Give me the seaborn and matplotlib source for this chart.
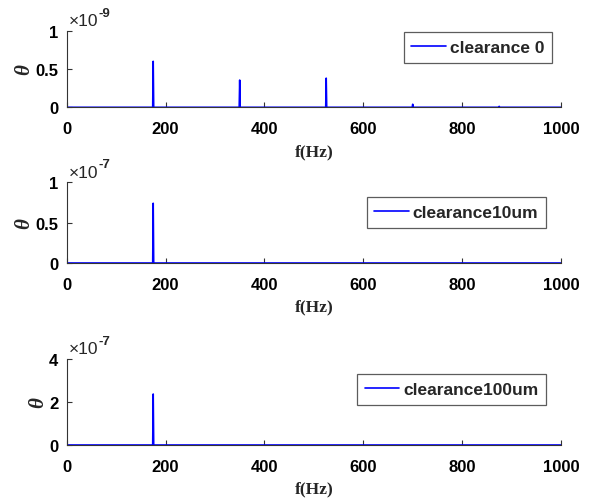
import numpy as np
import pandas as pd
import matplotlib
matplotlib.use("Agg")
import matplotlib.pyplot as plt
import seaborn as sns
from matplotlib.ticker import FixedLocator, FuncFormatter

# Spectral peaks of the angular response for three clearance cases
freq_max = 1000
freq_step = 1.0

peak_freqs_c0 = [175, 350, 525, 700, 875]
peak_amps_c0 = [0.60e-9, 0.355e-9, 0.38e-9, 0.04e-9, 0.012e-9]

peak_freqs_c10 = [175]
peak_amps_c10 = [0.74e-7]

peak_freqs_c100 = [175]
peak_amps_c100 = [2.37e-7]

series_labels = ["clearance 0", "clearance10um", "clearance100um"]
exponents = [-9, -7, -7]
ytick_values = [[0, 0.5, 1], [0, 0.5, 1], [0, 2, 4]]
xtick_values = [0, 200, 400, 600, 800, 1000]
x_label = "f(Hz)"
y_label = r"$\theta$"

sns.set_theme(style="ticks")
plt.rcParams["font.family"] = ["Liberation Sans", "DejaVu Sans"]
plt.rcParams["mathtext.fontset"] = "custom"
plt.rcParams["mathtext.rm"] = "Liberation Sans"
plt.rcParams["mathtext.bf"] = "Liberation Sans:bold"
plt.rcParams["mathtext.it"] = "Liberation Serif:italic:bold"


def spectrum(freqs, amps):
    f = np.arange(0, freq_max + freq_step, freq_step)
    a = np.zeros_like(f)
    for fk, ak in zip(freqs, amps):
        a[np.argmin(np.abs(f - fk))] = ak
    return pd.DataFrame({"f": f, "theta": a})


data = [
    spectrum(peak_freqs_c0, peak_amps_c0),
    spectrum(peak_freqs_c10, peak_amps_c10),
    spectrum(peak_freqs_c100, peak_amps_c100),
]

W, H = 592, 502
fig = plt.figure(figsize=(W / 100, H / 100), dpi=100)

# axes boxes in pixels: (left, top, right, bottom)
boxes = [(66.7, 31.7, 561, 108.3), (66.7, 183.3, 561, 264), (66.7, 360, 561, 446)]
legend_corners = [(552, 33), (546, 198), (546, 375)]

for df, label, exp, yt, box, lc in zip(data, series_labels, exponents,
                                         ytick_values, boxes, legend_corners):
    l, t, r, b = box
    ax = fig.add_axes([l / W, 1 - b / H, (r - l) / W, (b - t) / H])
    scale = 10.0 ** exp
    sns.lineplot(data=df, x="f", y="theta", ax=ax, color="#0000ff",
                 linewidth=1.2, label=label)
    ax.set_xlim(0, freq_max)
    ax.set_ylim(yt[0] * scale, yt[-1] * scale)
    ax.xaxis.set_major_locator(FixedLocator(xtick_values))
    ax.yaxis.set_major_locator(FixedLocator([v * scale for v in yt]))
    ax.yaxis.set_major_formatter(FuncFormatter(lambda v, p, s=scale: f"{v / s:g}"))
    ax.xaxis.set_major_formatter(FuncFormatter(lambda v, p: f"{v:g}"))
    for side in ("top", "right"):
        ax.spines[side].set_visible(False)
    for side in ("left", "bottom"):
        ax.spines[side].set_color("#333333")
        ax.spines[side].set_linewidth(0.8)
    ax.tick_params(direction="in", length=3.5, width=0.8, color="#333333",
                   labelsize=12, labelcolor="black")
    ax.tick_params(axis="x", pad=10)
    ax.tick_params(axis="y", pad=6)
    for lab in ax.get_xticklabels() + ax.get_yticklabels():
        lab.set_fontweight("bold")
    ax.set_xlabel(x_label, family="Liberation Serif", fontweight="bold",
                  fontsize=12.5, labelpad=5)
    ax.set_ylabel(y_label, fontsize=15, labelpad=1)

    # exponent marker above the y axis
    base = ax.annotate("\u00d710", xy=(0, 1), xycoords="axes fraction",
                       xytext=(1.5, 4.0), textcoords="offset points",
                       ha="left", va="baseline", fontsize=12.5)
    ax.annotate(f"-{abs(exp)}", xy=(1.0, 0.62), xycoords=base,
                xytext=(0.3, 0), textcoords="offset points",
                ha="left", va="bottom", fontsize=9.5, fontweight="bold")

    leg = ax.legend(loc="upper right",
                    bbox_to_anchor=(lc[0] / W, 1 - lc[1] / H),
                    bbox_transform=fig.transFigure, frameon=True,
                    fancybox=False, fontsize=12.5, handlelength=2.0,
                    handletextpad=0.2, borderpad=0.45, borderaxespad=0)
    leg.get_frame().set_edgecolor("#333333")
    leg.get_frame().set_linewidth(0.9)
    for txt in leg.get_texts():
        txt.set_fontweight("bold")

fig.savefig("out.png", dpi=100, facecolor="white")
